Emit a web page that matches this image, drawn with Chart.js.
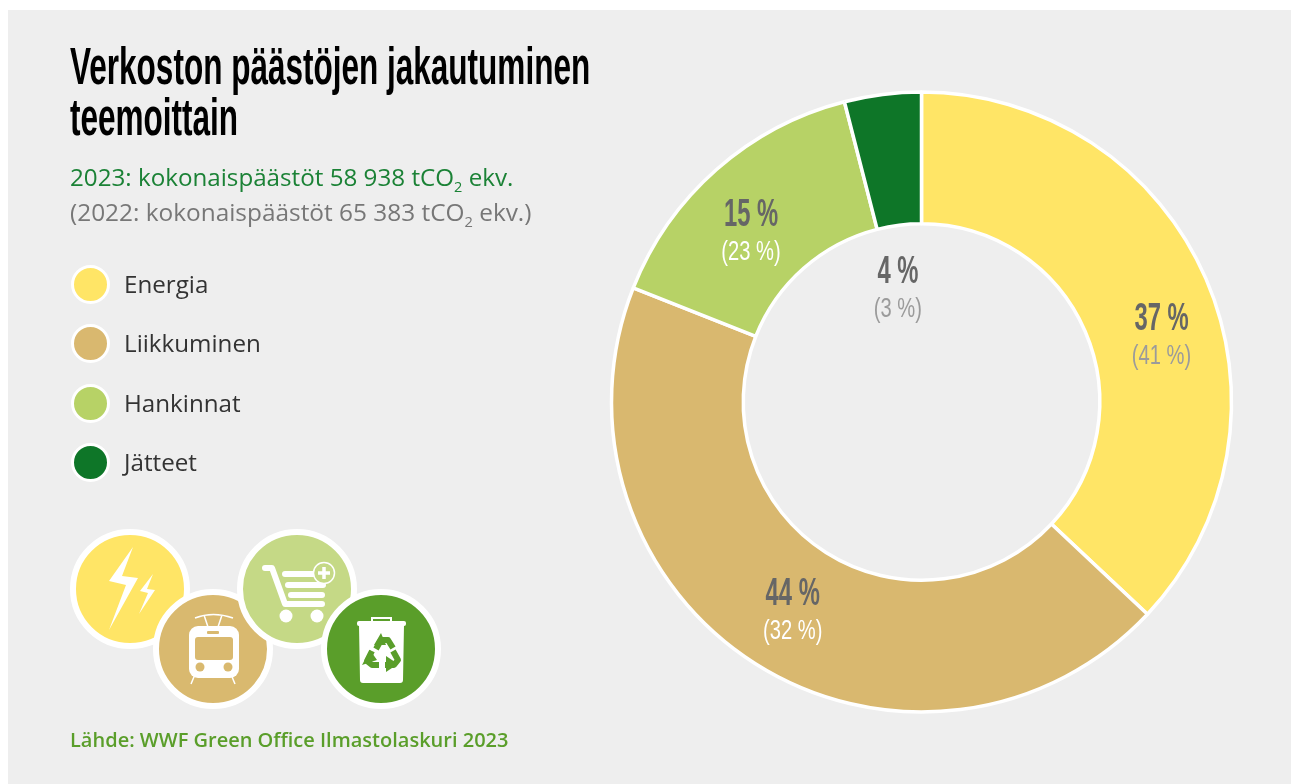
<!DOCTYPE html>
<html lang="fi">
<head>
<meta charset="utf-8">
<title>Verkoston päästöjen jakautuminen teemoittain</title>
<script src="https://cdn.jsdelivr.net/npm/chart.js@4/dist/chart.umd.js"></script>
<style>
html,body{margin:0;padding:0;width:1291px;height:784px;overflow:hidden;background:#fff}
#panel{position:absolute;left:8px;top:10px;width:1283px;height:774px;background:#eee}
#c{position:absolute;left:0;top:0}
.t{position:absolute;white-space:nowrap;line-height:1;transform-origin:0 0;font-family:"Open Sans",sans-serif}
.title{font-family:"Liberation Sans",sans-serif;font-weight:700;font-size:51px;color:#000}
sub{font-size:.6em;line-height:0}
#icons{position:absolute;left:0;top:0}
</style>
</head>
<body>
<div id="panel"></div>
<canvas id="c" width="1291" height="784"></canvas>
<div class="t title" style="left:70px;top:41px;transform:scaleX(.618)">Verkoston päästöjen jakautuminen</div>
<div class="t title" style="left:70px;top:92px;transform:scaleX(.618)">teemoittain</div>
<div class="t" style="left:70px;top:165px;font-size:24.2px;color:#1b8236">2023: kokonaispäästöt 58 938 tCO<sub>2</sub> ekv.</div>
<div class="t" style="left:70px;top:200px;font-size:24.4px;color:#777">(2022: kokonaispäästöt 65 383 tCO<sub>2</sub> ekv.)</div>
<div id="legend"></div>
<svg id="icons" width="1291" height="784" viewBox="0 0 1291 784" aria-hidden="true">
  <g>
    <circle cx="130" cy="589" r="57" fill="#ffe566" stroke="#fff" stroke-width="6"/>
    <path d="M133 547 L109 581 L126 585 L109 630 L138 578 L122 576 Z M153 574 L140 591 L148 593 L139 614 L155 590 L147 589 Z" fill="#fff"/>
  </g>
  <g>
    <circle cx="213" cy="649" r="57" fill="#d9b96f" stroke="#fff" stroke-width="6"/>
    <g fill="none" stroke="#fff" stroke-width="1.5">
      <path d="M195 618 Q213 611 233 618 M204 615 L208 627 M222 615 L218 627 M196 672 L191 684 M230 672 L235 684"/>
    </g>
    <rect x="189" y="626" width="50" height="52" rx="9" fill="#fff"/>
    <rect x="195" y="637" width="38" height="23" rx="3" fill="#d9b96f"/>
    <rect x="207" y="631" width="12" height="3" rx="1" fill="#d9b96f"/>
    <circle cx="200" cy="667" r="4.5" fill="#d9b96f"/>
    <circle cx="228" cy="667" r="4.5" fill="#d9b96f"/>
  </g>
  <g>
    <circle cx="297" cy="589" r="57" fill="#c5d986" stroke="#fff" stroke-width="6"/>
    <path d="M265 568 H272 L285 604 H322" fill="none" stroke="#fff" stroke-width="6" stroke-linecap="round" stroke-linejoin="round"/>
    <path d="M285 574 H318 M288 585 H323 M291 595 H322" stroke="#fff" stroke-width="6" stroke-linecap="round"/>
    <circle cx="286" cy="616" r="6.5" fill="#fff"/><circle cx="317" cy="616" r="6.5" fill="#fff"/>
    <circle cx="324" cy="573" r="10.5" fill="#c5d986" stroke="#fff" stroke-width="1.5"/>
    <path d="M324 567 V579 M318 573 H330" stroke="#fff" stroke-width="3.5"/>
  </g>
  <g>
    <circle cx="381" cy="649" r="57" fill="#5a9e2a" stroke="#fff" stroke-width="6"/>
    <path d="M372 624 V618 H391 V624" fill="none" stroke="#fff" stroke-width="2"/>
    <rect x="357" y="621" width="49" height="5" rx="2" fill="#fff"/>
    <path d="M359 625 H404 L403 680 Q403 683 400 683 H363 Q360 683 360 680 Z" fill="#fff"/>
    <g fill="none" stroke="#5a9e2a" stroke-width="6" stroke-linejoin="round">
      <path d="M376 649 L381 640 H388 L393 648"/>
      <path d="M372 651 L367 661 L372 665 H379"/>
      <path d="M385 665 H394 L398 660 L393 651"/>
    </g>
    <path d="M381 633 L374 645 L386 645 Z M362 665 L370 650 L377 660 Z M386 656 L386 672 L398 664 Z" fill="#5a9e2a"/>
  </g>
</svg>
<div class="t" style="left:70px;top:730px;font-size:20px;font-weight:600;color:#5a9e2a">Lähde: WWF Green Office Ilmastolaskuri 2023</div>
<script>
const categories = ["Energia", "Liikkuminen", "Hankinnat", "Jätteet"];
const values2023 = [37, 44, 15, 4];
const values2022 = [41, 32, 23, 3];
const sliceColors = ["#ffe566", "#d9b86f", "#b7d266", "#0e7628"];
const mainLabelColors = ["#666666", "#666666", "#666666", "#666666"];
const subLabelColors = ["#9b9b9b", "#ffffff", "#ffffff", "#9b9b9b"];
const labelOffsets = [[16, 33], [2, 5], [-9, 15], [7, 131]];

const legendEl = document.getElementById("legend");
const legendTops = [284, 343, 403, 462];
categories.forEach((name, i) => {
  const dot = document.createElement("div");
  dot.style.cssText = `position:absolute;left:71px;top:${legendTops[i]-19}px;width:33px;height:33px;border-radius:50%;border:3px solid #fff;background:${sliceColors[i]}`;
  const txt = document.createElement("div");
  txt.className = "t";
  txt.style.cssText = `left:124px;top:${legendTops[i]-12}px;font-size:24.2px;color:#333`;
  txt.textContent = name;
  legendEl.append(dot, txt);
});

const ringLabels = {
  id: "ringLabels",
  afterDatasetsDraw(chart) {
    const ctx = chart.ctx;
    chart.getDatasetMeta(0).data.forEach((arc, i) => {
      const p = arc.getCenterPoint();
      const x = p.x + labelOffsets[i][0], y = p.y + labelOffsets[i][1];
      const put = (text, font, color, yy, sx) => {
        ctx.save();
        ctx.translate(x, yy);
        ctx.scale(sx, 1);
        ctx.font = font;
        ctx.fillStyle = color;
        ctx.textAlign = "center";
        ctx.textBaseline = "middle";
        ctx.fillText(text, 0, 0);
        ctx.restore();
      };
      put(values2023[i] + " %", '700 39px "Liberation Sans"', mainLabelColors[i], y - 19, .61);
      put("(" + values2022[i] + " %)", '400 28px "Liberation Sans"', subLabelColors[i], y + 18, .72);
    });
  }
};

new Chart(document.getElementById("c"), {
  type: "doughnut",
  data: {
    labels: categories,
    datasets: [{
      data: values2023,
      backgroundColor: sliceColors,
      borderColor: "#ffffff",
      borderWidth: 3.5,
      radius: 310,
      cutout: "57.5%"
    }]
  },
  options: {
    responsive: false,
    animation: false,
    layout: { padding: { left: 552, top: 20, right: 0, bottom: 0 } },
    plugins: { legend: { display: false }, tooltip: { enabled: false } }
  },
  plugins: [ringLabels]
});
</script>
</body>
</html>
